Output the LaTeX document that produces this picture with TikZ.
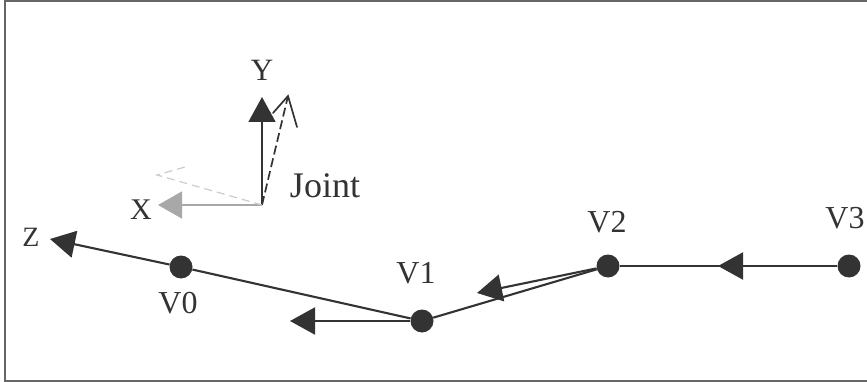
\documentclass[tikz,border=0pt]{standalone}
\usepackage{fontspec}
\setmainfont{Liberation Serif}
\usetikzlibrary{arrows.meta}
\definecolor{ink}{HTML}{333333}
\definecolor{framegray}{HTML}{666666}
\definecolor{xgray}{HTML}{A8A8A8}
\definecolor{ghost}{HTML}{CCCCCC}
\tikzset{
  lab/.style={text=ink,inner sep=0pt,font=\fontsize{#1}{#1}\selectfont},
  dot/.style={circle,fill=ink,minimum size=23pt,inner sep=0pt},
  link/.style={draw=ink,line width=2.1pt},
  head/.style={link,-{Triangle[length=25pt,width=27pt,fill=ink]}},
  openhead/.style={draw=ink,line width=1.7pt},
  anchorpt/.style={inner sep=0pt,outer sep=0pt}
}
\begin{document}
\begin{tikzpicture}[x=1pt,y=-1pt]
\useasboundingbox (0,0) rectangle (867,382);
\draw[framegray,line width=1.8pt] (867,1) -- (5,1) -- (5,381) -- (867,381);
% joints
\node[dot] (v0) at (181,267) {};
\node[dot] (v1) at (422,321) {};
\node[dot] (v2) at (608,266) {};
\node[dot] (v3) at (849,266) {};
\node[anchorpt] (o) at (262,205) {};
% arrow tips
\coordinate (ztip) at (50,239);
\coordinate (v1tip) at (290,321);
\coordinate (v2tip) at (477,293);
\coordinate (v3tip) at (718,266);
\coordinate (ytip) at (262,97);
\coordinate (xtip) at (158,205);
\coordinate (yopen) at (288,96);
\coordinate (yb1) at (273,113);
\coordinate (yb2) at (297,127);
\coordinate (xopen) at (157,175);
\coordinate (xb1) at (185,167);
% links
\draw[link] (v3) -- (v2);
\draw[head] (v3) -- (v3tip);
\draw[link] (v2) -- (v1);
\draw[head] (v2) -- (v2tip);
\draw[head] (v1) -- (v1tip);
\draw[link] (v1) -- (v0);
\draw[head] (v0) -- (ztip);
% joint axes
\draw[draw=xgray,line width=1.7pt,-{Triangle[length=24pt,width=27pt,fill=xgray]}] (o.center) -- (xtip);
\draw[link,line width=1.7pt,-{Triangle[length=25pt,width=27pt,fill=ink]}] (o.center) -- (ytip);
\draw[openhead,dash pattern=on 9pt off 4pt] (o.center) -- (yopen);
\draw[openhead,line cap=round] (yb1) -- (yopen) -- (yb2);
\draw[ghost,line width=1.2pt,dash pattern=on 8pt off 5pt] (o.center) -- (xopen) -- (xb1);
% labels
\node[lab=31] (ly) at (262,70) {Y};
\node[lab=30] (lx) at (141,210) {X};
\node[lab=28] (lz) at (31,237) {Z};
\node[lab=36] (lj) at (325,186) {Joint};
\node[lab=32] (l0) at (178,303) {V0};
\node[lab=32] (l1) at (416,273) {V1};
\node[lab=32] (l2) at (607,222) {V2};
\node[lab=32] (l3) at (845,218) {V3};
\end{tikzpicture}
\end{document}
